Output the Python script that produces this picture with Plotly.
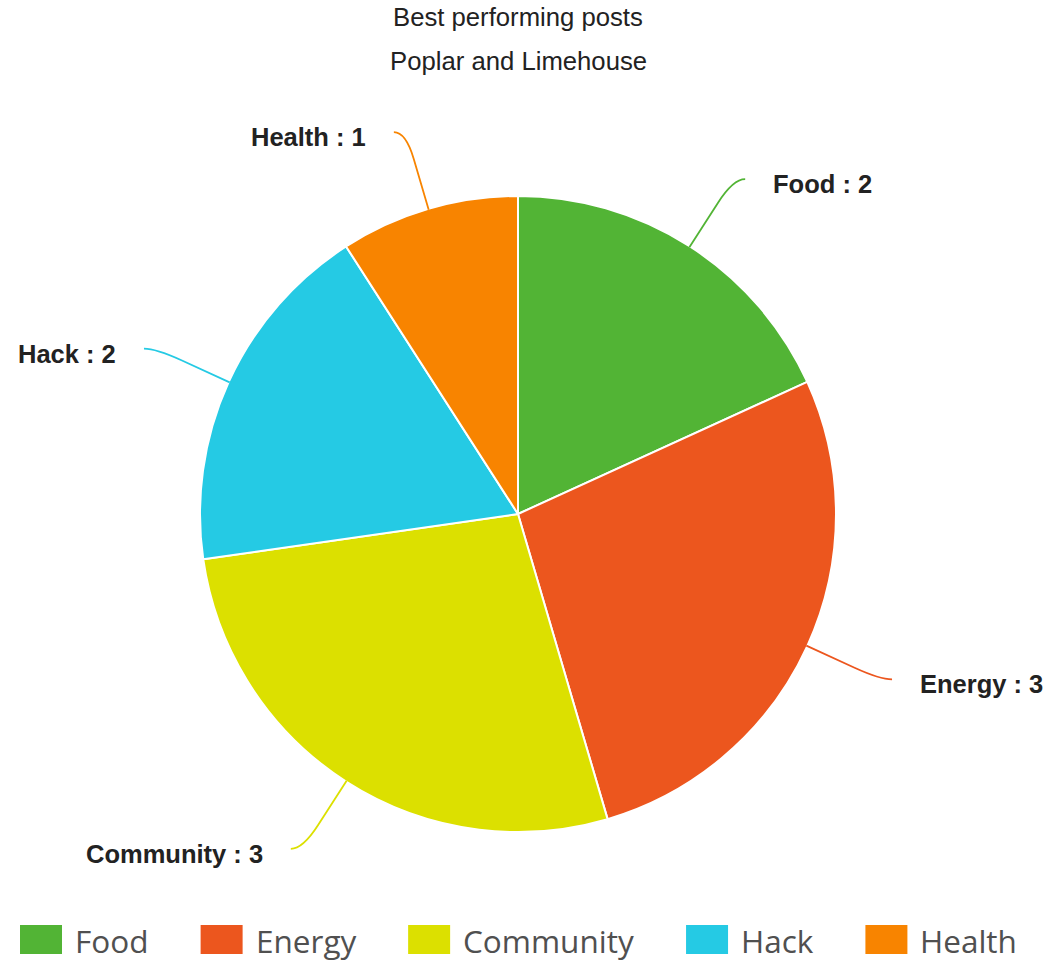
import math
import plotly.graph_objects as go

# ---- data ----
categories = ["Food", "Energy", "Community", "Hack", "Health"]
values = [2, 3, 3, 2, 1]
colors = ["#52b435", "#ec561e", "#dce000", "#25cae4", "#f88400"]
title_lines = ["Best performing posts", "Poplar and Limehouse"]

# ---- layout constants (pixels) ----
W, H = 1051, 961
CX, CY, R = 518, 514, 318
R_BEND, R_CTRL, HOOK, LABEL_GAP = 370, 398, 12, 26

def px(x):
    return x / W

def py(y):
    return 1 - y / H

fig = go.Figure(
    go.Pie(
        labels=categories,
        values=values,
        sort=False,
        direction="clockwise",
        rotation=0,
        marker=dict(colors=colors, line=dict(color="white", width=2)),
        textinfo="none",
        showlegend=False,
        domain=dict(x=[px(CX - R), px(CX + R)], y=[py(CY + R), py(CY - R)]),
    )
)

shapes = []
annotations = []

# leader lines + outside labels computed from the data
total = sum(values)
cum = 0
for cat, v, col in zip(categories, values, colors):
    theta = 2 * math.pi * (cum + v / 2) / total
    cum += v
    s, c = math.sin(theta), math.cos(theta)
    sign = 1 if s >= 0 else -1

    def pt(r):
        return CX + r * s, CY - r * c

    x0, y0 = pt(R - 1)
    xa, ya = pt(R_BEND)
    xc, yc = pt(R_CTRL)
    xe, ye = xc + sign * HOOK, yc
    path = (
        f"M {px(x0)},{py(y0)} L {px(xa)},{py(ya)} "
        f"Q {px(xc)},{py(yc)} {px(xe)},{py(ye)}"
    )
    shapes.append(dict(type="path", xref="paper", yref="paper", path=path,
                       line=dict(color=col, width=1.8)))
    annotations.append(dict(
        text=f"<b>{cat} : {v}</b>", xref="paper", yref="paper",
        x=px(xe + sign * LABEL_GAP), y=py(ye + 5),
        xanchor="left" if sign > 0 else "right", yanchor="middle",
        showarrow=False,
        font=dict(family="Liberation Sans, Arial", size=25.5, color="#222222"),
    ))

# title (two lines)
for line, ty in zip(title_lines, [17.5, 61]):
    annotations.append(dict(
        text=line, xref="paper", yref="paper", x=px(CX), y=py(ty),
        xanchor="center", yanchor="middle", showarrow=False,
        font=dict(family="Liberation Sans, Arial", size=25.7, color="#222222"),
    ))

# custom legend with large swatches
OS_W = {" ": 0.26, "C": 0.633, "E": 0.556, "F": 0.516, "H": 0.738, "a": 0.556,
        "c": 0.478, "d": 0.613, "e": 0.561, "g": 0.548, "h": 0.614, "i": 0.253,
        "k": 0.525, "l": 0.253, "m": 0.930, "n": 0.614, "o": 0.604, "r": 0.408,
        "t": 0.344, "u": 0.614, "y": 0.504}
LEG_FONT = 31.5
SW_W, SW_H = 42, 29
LEG_Y = 939.5
x = 20
for cat, col in zip(categories, colors):
    shapes.append(dict(type="rect", xref="paper", yref="paper",
                       x0=px(x), x1=px(x + SW_W),
                       y0=py(LEG_Y + SW_H / 2), y1=py(LEG_Y - SW_H / 2),
                       fillcolor=col, line=dict(width=0)))
    tx = x + SW_W + 11
    annotations.append(dict(
        text=cat, xref="paper", yref="paper", x=px(tx), y=py(LEG_Y + 1),
        xanchor="left", yanchor="middle", showarrow=False,
        font=dict(family="Open Sans", size=LEG_FONT, color="#505050"),
    ))
    tw = sum(OS_W.get(ch, 0.55) for ch in cat) * LEG_FONT
    x = tx + tw + 54

fig.update_layout(
    width=W, height=H,
    margin=dict(l=0, r=0, t=0, b=0),
    paper_bgcolor="white", plot_bgcolor="white",
    showlegend=False,
    shapes=shapes,
    annotations=annotations,
)

fig.write_html(
    "out.html",
    config={"displayModeBar": False},
    post_script="document.body.style.margin='0';document.body.style.overflow='hidden';",
)
